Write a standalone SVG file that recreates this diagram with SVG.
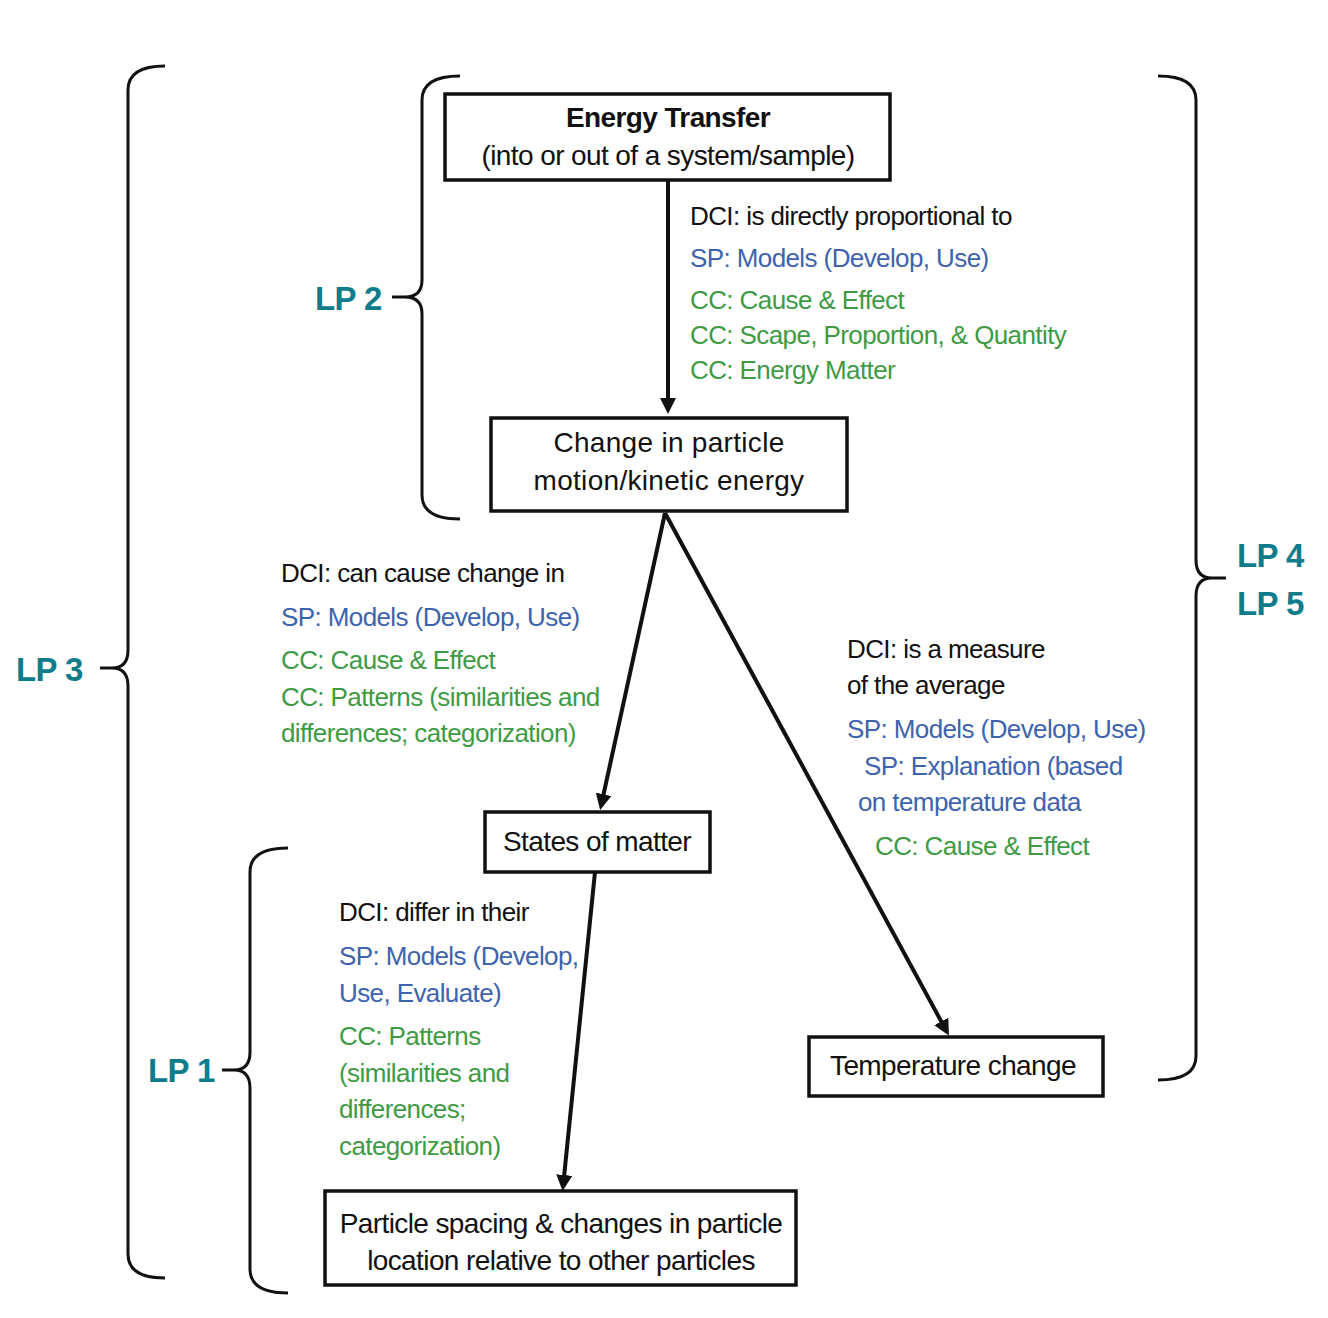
<svg xmlns="http://www.w3.org/2000/svg" width="1328" height="1318" viewBox="0 0 1328 1318">
<defs>
<style>
text{font-family:"Liberation Sans",Arial,sans-serif;font-size:26px;letter-spacing:-0.6px}
.c{text-anchor:middle;fill:#111;font-size:28px}
.k{fill:#111}.b{fill:#3e63ad}.g{fill:#3f9a45}
.lp{fill:#0e7c8a;font-weight:bold;font-size:33px}
.box{fill:#fff;stroke:#111;stroke-width:3.5}
.br{fill:none;stroke:#111;stroke-width:3}
.con{stroke:#111;stroke-width:4;fill:none;marker-end:url(#ah)}
</style>
<marker id="ah" markerWidth="4" markerHeight="4" refX="3" refY="2" orient="auto" markerUnits="strokeWidth"><path d="M0,0 L4,2 L0,4 z" fill="#111"/></marker>
</defs>
<g id="connectors">
<line class="con" x1="668" y1="180" x2="668" y2="410"/>
<line class="con" x1="665" y1="513" x2="601" y2="806"/>
<line class="con" x1="665" y1="513" x2="947" y2="1032"/>
<line class="con" x1="595" y1="872" x2="563" y2="1187"/>
</g>
<g id="braces">
<path class="br" d="M460,76 Q422,76 422,100 L422,280 Q422,297 405,297 L392,297 M405,297 Q422,297 422,314 L422,495 Q422,519 460,519"/>
<path class="br" d="M165,66 Q128,66 128,90 L128,650 Q128,668 112,668 L100,668 M112,668 Q128,668 128,686 L128,1254 Q128,1278 165,1278"/>
<path class="br" d="M288,848 Q250,848 250,872 L250,1052 Q250,1070 234,1070 L222,1070 M234,1070 Q250,1070 250,1088 L250,1269 Q250,1293 288,1293"/>
<path class="br" d="M1158,76 Q1196,76 1196,100 L1196,560 Q1196,578 1212,578 L1226,578 M1212,578 Q1196,578 1196,596 L1196,1056 Q1196,1080 1158,1080"/>
<text class="lp" x="315" y="310">LP 2</text>
<text class="lp" x="16" y="681">LP 3</text>
<text class="lp" x="148" y="1082">LP 1</text>
<text class="lp" x="1237" y="567">LP 4</text>
<text class="lp" x="1237" y="615">LP 5</text>
</g>
<g id="n1"><rect class="box" x="445" y="94" width="445" height="86"/>
<text class="c" x="668" y="127" style="font-weight:bold">Energy Transfer</text>
<text class="c" x="668" y="165">(into or out of a system/sample)</text></g>
<g id="n2"><rect class="box" x="491" y="418" width="356" height="93"/>
<text class="c" x="669" y="452" style="letter-spacing:0.3px">Change in particle</text>
<text class="c" x="669" y="490" style="letter-spacing:0.3px">motion/kinetic energy</text></g>
<g id="n3"><rect class="box" x="485" y="812" width="225" height="60"/>
<text class="c" x="597" y="851">States of matter</text></g>
<g id="n4"><rect class="box" x="325" y="1191" width="471" height="94"/>
<text class="c" x="561" y="1233">Particle spacing &amp; changes in particle</text>
<text class="c" x="561" y="1270">location relative to other particles</text></g>
<g id="n5"><rect class="box" x="809" y="1037" width="294" height="59"/>
<text class="c" x="953" y="1075">Temperature change</text></g>
<g id="labels">
<text class="k" x="690" y="225">DCI: is directly proportional to</text>
<text class="b" x="690" y="267">SP: Models (Develop, Use)</text>
<text class="g" x="690" y="309">CC: Cause &amp; Effect</text>
<text class="g" x="690" y="344">CC: Scape, Proportion, &amp; Quantity</text>
<text class="g" x="690" y="379">CC:  Energy Matter</text>
<text class="k" x="281" y="582">DCI: can cause change in</text>
<text class="b" x="281" y="626">SP: Models (Develop, Use)</text>
<text class="g" x="281" y="669">CC: Cause &amp; Effect</text>
<text class="g" x="281" y="706">CC: Patterns (similarities and</text>
<text class="g" x="281" y="742">differences; categorization)</text>
<text class="k" x="847" y="658">DCI: is a measure</text>
<text class="k" x="847" y="694">of the average</text>
<text class="b" x="847" y="738">SP: Models (Develop, Use)</text>
<text class="b" x="864" y="775">SP: Explanation (based</text>
<text class="b" x="858" y="811">on temperature data</text>
<text class="g" x="875" y="855">CC: Cause &amp; Effect</text>
<text class="k" x="339" y="921">DCI: differ in their</text>
<text class="b" x="339" y="965">SP: Models (Develop,</text>
<text class="b" x="339" y="1002">Use, Evaluate)</text>
<text class="g" x="339" y="1045">CC: Patterns</text>
<text class="g" x="339" y="1082">(similarities and</text>
<text class="g" x="339" y="1118">differences;</text>
<text class="g" x="339" y="1155">categorization)</text>
</g>
</svg>
